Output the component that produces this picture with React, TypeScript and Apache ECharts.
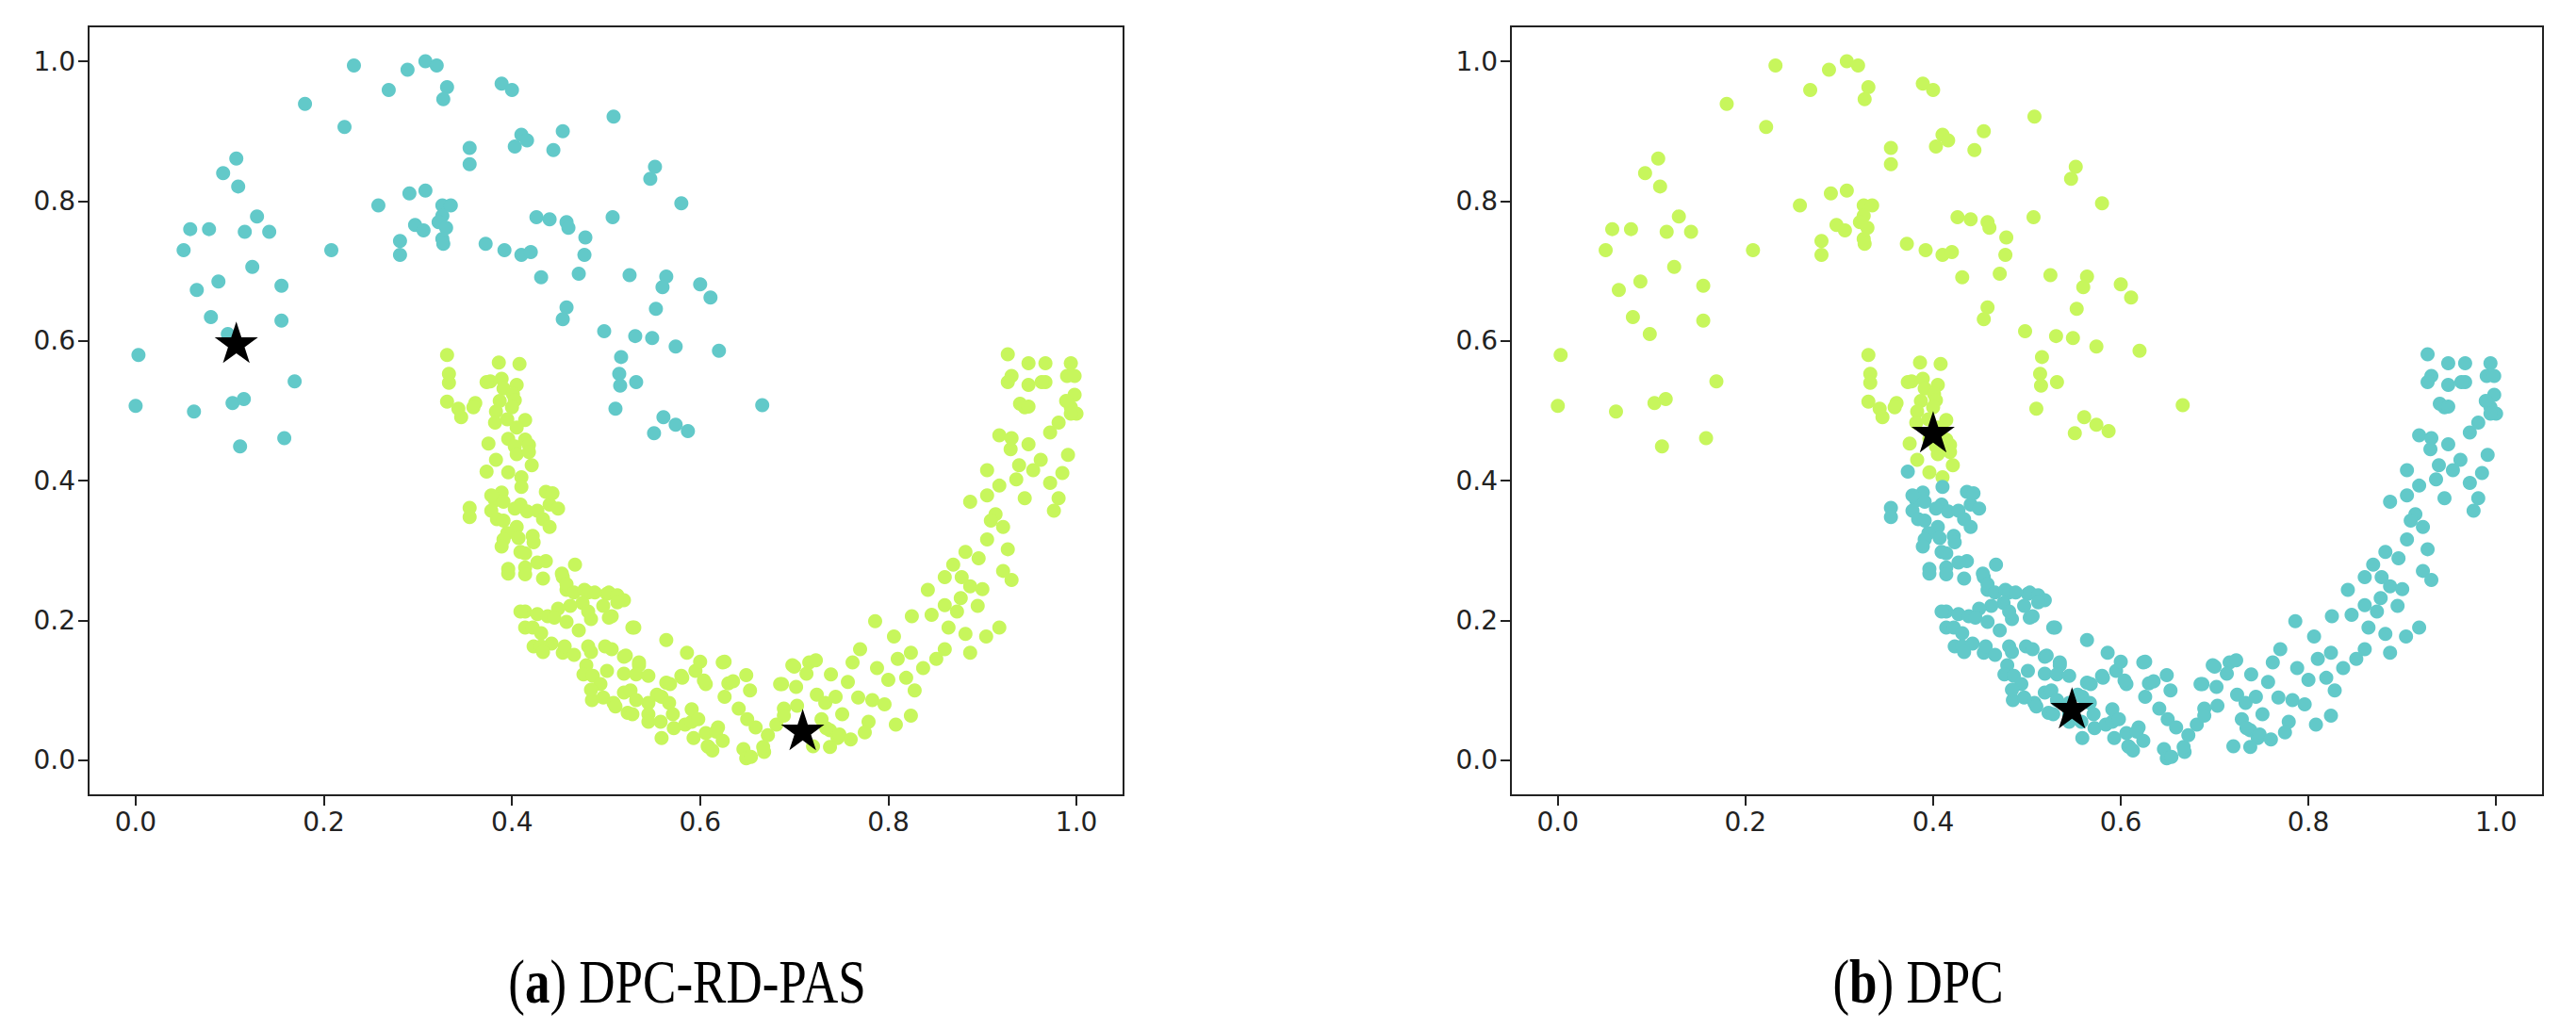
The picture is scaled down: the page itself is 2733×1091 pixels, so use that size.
import React, { useEffect, useRef } from "react";
import * as echarts from "echarts";

// ---- data ----
const tickValues = [0, 0.2, 0.4, 0.6, 0.8, 1.0];

// upper moon
const upperMoon: number[][] = [
  [0.232,0.994],[0.289,0.988],[0.308,1.0],[0.320,0.994],[0.331,0.963],[0.327,0.946],[0.269,0.959],
  [0.180,0.939],[0.222,0.906],[0.389,0.968],[0.400,0.959],[0.508,0.921],[0.410,0.895],[0.416,0.887],
  [0.403,0.878],[0.454,0.900],[0.444,0.873],[0.355,0.876],[0.355,0.853],[0.552,0.849],[0.547,0.832],
  [0.107,0.861],[0.093,0.840],[0.109,0.821],[0.308,0.815],[0.291,0.811],[0.258,0.794],[0.326,0.794],
  [0.335,0.794],[0.326,0.779],[0.322,0.770],[0.330,0.762],[0.326,0.746],[0.327,0.739],[0.297,0.766],
  [0.306,0.758],[0.281,0.743],[0.281,0.723],[0.580,0.797],[0.507,0.777],[0.426,0.777],[0.440,0.774],
  [0.458,0.770],[0.460,0.762],[0.478,0.748],[0.477,0.723],[0.471,0.696],[0.058,0.760],[0.078,0.760],
  [0.051,0.730],[0.065,0.673],[0.088,0.685],[0.080,0.634],[0.129,0.778],[0.116,0.756],[0.142,0.756],
  [0.124,0.706],[0.155,0.679],[0.155,0.629],[0.208,0.730],[0.372,0.739],[0.392,0.730],[0.410,0.723],
  [0.420,0.727],[0.431,0.691],[0.525,0.694],[0.564,0.692],[0.560,0.677],[0.553,0.646],[0.600,0.681],
  [0.611,0.662],[0.458,0.648],[0.454,0.631],[0.498,0.614],[0.531,0.607],[0.549,0.604],[0.574,0.592],
  [0.620,0.586],[0.003,0.580],[0.0,0.507],[0.062,0.499],[0.103,0.511],[0.115,0.517],[0.111,0.449],
  [0.158,0.461],[0.169,0.542],[0.516,0.577],[0.514,0.553],[0.515,0.536],[0.532,0.541],[0.510,0.503],
  [0.666,0.508],[0.561,0.491],[0.574,0.480],[0.587,0.471],[0.551,0.468],[0.098,0.610]
];

// top of the lower moon's left arm
const lowerArmTop: number[][] = [
  [0.331,0.580],[0.333,0.553],[0.333,0.540],[0.331,0.513],[0.343,0.503],[0.346,0.491],[0.361,0.511],
  [0.359,0.505],[0.386,0.569],[0.408,0.567],[0.389,0.546],[0.377,0.542],[0.373,0.541],[0.391,0.532],
  [0.405,0.537],[0.401,0.524],[0.403,0.515],[0.387,0.514],[0.400,0.505],[0.383,0.499],[0.395,0.488],
  [0.414,0.487],[0.382,0.483],[0.405,0.476],[0.396,0.460],[0.414,0.459],[0.418,0.451],[0.403,0.449],
  [0.375,0.453],[0.405,0.438],[0.418,0.441],[0.383,0.430],[0.421,0.422],[0.396,0.412],[0.410,0.405]
];

// rest of the lower moon
const lowerRest: number[][] = [
  [0.373,0.413],[0.410,0.391],[0.389,0.383],[0.436,0.384],[0.382,0.372],[0.378,0.379],[0.391,0.370],
  [0.409,0.366],[0.440,0.366],[0.403,0.360],[0.416,0.356],[0.355,0.361],[0.355,0.348],[0.378,0.357],
  [0.427,0.357],[0.384,0.345],[0.391,0.343],[0.433,0.345],[0.449,0.360],[0.443,0.382],[0.440,0.334],
  [0.405,0.334],[0.395,0.325],[0.422,0.321],[0.407,0.318],[0.391,0.316],[0.423,0.312],[0.389,0.306],
  [0.409,0.298],[0.414,0.296],[0.436,0.285],[0.427,0.283],[0.467,0.280],[0.396,0.274],[0.414,0.276],
  [0.396,0.267],[0.414,0.266],[0.433,0.260],[0.454,0.262],[0.453,0.267],[0.458,0.244],[0.458,0.252],
  [0.466,0.240],[0.477,0.244],[0.481,0.240],[0.488,0.240],[0.501,0.238],[0.503,0.240],[0.512,0.236],
  [0.519,0.229],[0.512,0.226],[0.497,0.221],[0.475,0.225],[0.462,0.221],[0.414,0.213],[0.409,0.213],
  [0.427,0.209],[0.438,0.206],[0.449,0.217],[0.445,0.204],[0.458,0.198],[0.471,0.186],[0.484,0.202],
  [0.481,0.213],[0.503,0.204],[0.506,0.206],[0.528,0.190],[0.530,0.190],[0.414,0.190],[0.422,0.190],
  [0.431,0.182],[0.442,0.167],[0.423,0.163],[0.431,0.163],[0.433,0.155],[0.454,0.154],[0.456,0.163],
  [0.466,0.151],[0.481,0.163],[0.484,0.155],[0.499,0.163],[0.506,0.159],[0.519,0.148],[0.521,0.150],
  [0.535,0.140],[0.535,0.136],[0.479,0.136],[0.476,0.123],[0.486,0.121],[0.494,0.109],[0.501,0.128],
  [0.519,0.124],[0.532,0.123],[0.545,0.121],[0.564,0.111],[0.580,0.121],[0.595,0.128],[0.606,0.109],
  [0.624,0.140],[0.485,0.086],[0.484,0.101],[0.497,0.090],[0.508,0.082],[0.510,0.077],[0.519,0.097],
  [0.526,0.100],[0.523,0.068],[0.532,0.086],[0.545,0.082],[0.554,0.094],[0.559,0.091],[0.567,0.082],
  [0.528,0.066],[0.545,0.066],[0.545,0.055],[0.558,0.055],[0.559,0.032],[0.571,0.066],[0.572,0.046],
  [0.584,0.051],[0.591,0.055],[0.591,0.073],[0.598,0.059],[0.606,0.039],[0.619,0.047],[0.593,0.032],
  [0.608,0.020],[0.609,0.019],[0.613,0.014],[0.617,0.041],[0.624,0.028],[0.626,0.091],[0.641,0.074],
  [0.650,0.059],[0.659,0.047],[0.646,0.016],[0.649,0.003],[0.654,0.005],[0.668,0.012],[0.667,0.019],
  [0.672,0.036],[0.681,0.051],[0.689,0.074],[0.689,0.064],[0.703,0.078],[0.685,0.109],[0.687,0.109],
  [0.698,0.136],[0.700,0.134],[0.716,0.140],[0.723,0.143],[0.724,0.094],[0.733,0.082],[0.729,0.059],
  [0.738,0.043],[0.734,0.046],[0.746,0.032],[0.738,0.019],[0.720,0.020],[0.748,0.037],[0.739,0.123],
  [0.744,0.091],[0.751,0.066],[0.768,0.090],[0.779,0.055],[0.783,0.086],[0.770,0.159],[0.786,0.199],
  [0.788,0.132],[0.806,0.177],[0.810,0.145],[0.824,0.154],[0.819,0.118],[0.828,0.100],[0.824,0.064],
  [0.837,0.132],[0.851,0.145],[0.860,0.159],[0.846,0.208],[0.860,0.222],[0.873,0.213],[0.864,0.190],
  [0.882,0.181],[0.887,0.154],[0.904,0.177],[0.918,0.190],[0.842,0.244],[0.860,0.262],[0.869,0.280],
  [0.882,0.298],[0.896,0.289],[0.905,0.316],[0.927,0.302],[0.922,0.271],[0.931,0.258],[0.887,0.249],
  [0.887,0.370],[0.905,0.415],[0.918,0.393],[0.914,0.352],[0.936,0.402],[0.945,0.375],[0.954,0.415],
  [0.972,0.397],[0.981,0.375],[0.976,0.357],[0.985,0.411],[0.905,0.379],[0.909,0.343],[0.922,0.334],
  [0.918,0.465],[0.931,0.461],[0.949,0.452],[0.945,0.505],[0.972,0.469],[0.981,0.483],[0.994,0.505],
  [1.0,0.496],[0.998,0.523],[0.931,0.550],[0.949,0.537],[0.967,0.541],[0.990,0.550],[0.927,0.581],
  [0.949,0.568],[0.967,0.568],[0.994,0.568],[0.998,0.550],[0.963,0.541],[0.940,0.510],[0.949,0.506],
  [0.989,0.514],[0.994,0.496],[0.927,0.541],[0.702,0.105],[0.713,0.124],[0.757,0.112],[0.762,0.140],
  [0.800,0.115],[0.796,0.080],[0.808,0.051],[0.760,0.030],[0.775,0.040],[0.630,0.110],[0.653,0.100],
  [0.649,0.122],[0.635,0.113],[0.600,0.141],[0.586,0.154],[0.564,0.172],[0.581,0.118],[0.604,0.114],
  [0.568,0.109],[0.626,0.141],[0.825,0.206],[0.877,0.232],[0.895,0.221],[0.900,0.245],[0.878,0.262],
  [0.939,0.422],[0.991,0.437],[0.930,0.445],[0.962,0.430]
];

const centersA: number[][] = [[0.107, 0.598], [0.709, 0.044]];
const centersB: number[][] = [[0.400, 0.470], [0.548, 0.075]];

const captionA = "({b|a}) DPC-RD-PAS";
const captionB = "({b|b}) DPC";

// ---- style ----
const TEAL = "#62C9C9";
const LIME = "#C7F65C";
const AXIS = "#222222";
const STAR =
  "path://M50,0 L61.2,34.5 L97.6,34.5 L68.2,55.9 L79.4,90.5 L50,69.1 L20.6,90.5 L31.8,55.9 L2.4,34.5 L38.8,34.5 Z";

function axisCommon() {
  return {
    type: "value" as const,
    min: -0.05,
    max: 1.05,
    splitLine: { show: false },
    axisLine: { show: true, onZero: false, lineStyle: { color: AXIS, width: 2 } },
    axisTick: {
      show: true,
      length: 11,
      inside: false,
      customValues: tickValues,
      lineStyle: { color: AXIS, width: 2 },
    },
    axisLabel: {
      customValues: tickValues,
      formatter: (v: number) => v.toFixed(1),
      color: "#222",
      fontFamily: "DejaVu Sans",
      fontSize: 28,
      margin: 14,
    },
  };
}

function dots(data: number[][], color: string, idx: number) {
  return {
    type: "scatter" as const,
    xAxisIndex: idx,
    yAxisIndex: idx,
    data,
    symbol: "circle",
    symbolSize: 15,
    itemStyle: { color, opacity: 1 },
    silent: true,
    z: 2,
  };
}

function stars(data: number[][], idx: number) {
  return {
    type: "scatter" as const,
    xAxisIndex: idx,
    yAxisIndex: idx,
    data,
    symbol: STAR,
    symbolSize: [46, 44],
    itemStyle: { color: "#000", opacity: 1 },
    silent: true,
    z: 5,
  };
}

function caption(text: string, cx: number) {
  return {
    type: "text" as const,
    x: cx,
    y: 1042,
    scaleY: 1.25,
    style: {
      text,
      x: 0,
      y: 0,
      align: "center",
      verticalAlign: "middle",
      fill: "#000",
      fontFamily: "Liberation Serif",
      fontSize: 53,
      rich: {
        b: { fontFamily: "Liberation Serif", fontSize: 53, fontWeight: "bold", fill: "#000" },
      },
    },
  };
}

export default function App() {
  const ref = useRef<HTMLDivElement>(null);

  useEffect(() => {
    document.body.style.margin = "0";
    if (!ref.current) return;
    const chart = echarts.init(ref.current, null, { renderer: "svg" });
    const option = {
      animation: false,
      backgroundColor: "#ffffff",
      grid: [
        { left: 94, top: 28, width: 1098, height: 816, show: true, borderColor: AXIS, borderWidth: 2, backgroundColor: "transparent" },
        { left: 1603, top: 28, width: 1095, height: 816, show: true, borderColor: AXIS, borderWidth: 2, backgroundColor: "transparent" },
      ],
      xAxis: [
        { ...axisCommon(), gridIndex: 0 },
        { ...axisCommon(), gridIndex: 1 },
      ],
      yAxis: [
        { ...axisCommon(), gridIndex: 0 },
        { ...axisCommon(), gridIndex: 1 },
      ],
      series: [
        dots(upperMoon, TEAL, 0),
        dots(lowerArmTop, LIME, 0),
        dots(lowerRest, LIME, 0),
        stars(centersA, 0),
        dots(upperMoon, LIME, 1),
        dots(lowerArmTop, LIME, 1),
        dots(lowerRest, TEAL, 1),
        stars(centersB, 1),
      ],
      graphic: [caption(captionA, 729), caption(captionB, 2035)],
    };
    chart.setOption(option as any);
    return () => chart.dispose();
  }, []);

  return <div ref={ref} style={{ width: 2733, height: 1091 }} />;
}
